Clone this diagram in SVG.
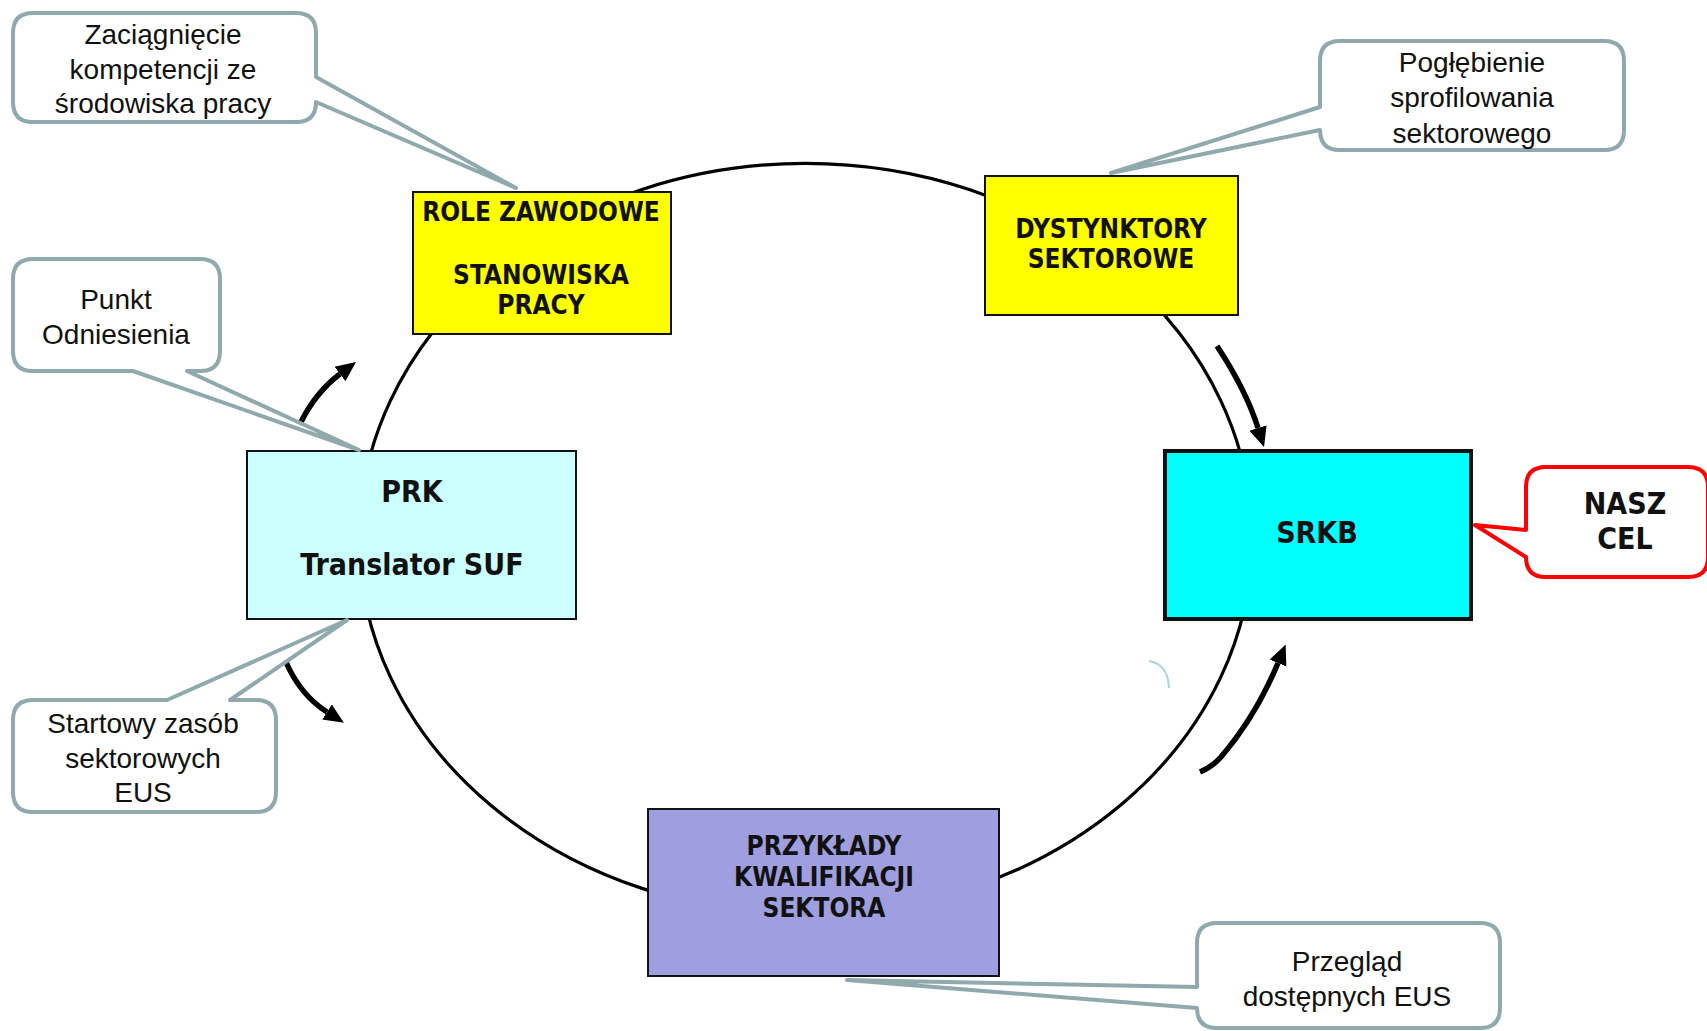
<svg xmlns="http://www.w3.org/2000/svg" width="1707" height="1031" viewBox="0 0 1707 1031">
<defs>
<style>
.callout{fill:#fff;stroke:#8FA9AC;stroke-width:4;stroke-linejoin:round}
.red{fill:#fff;stroke:#FF0000;stroke-width:4;stroke-linejoin:round}
.ct{font-family:"Liberation Sans",Arial,sans-serif;font-size:28px;fill:#111;text-anchor:middle}
.bt{font-family:"DejaVu Sans Condensed","DejaVu Sans",sans-serif;font-stretch:condensed;font-weight:bold;font-size:26px;fill:#111;text-anchor:middle}
.big{font-size:30px}
.box{stroke:#111;stroke-width:2}
.flow{fill:none;stroke:#000;stroke-width:5.5;stroke-linecap:butt}
</style>
<marker id="ah" markerUnits="userSpaceOnUse" viewBox="0 -10 20 20" refX="0" refY="0" markerWidth="20" markerHeight="20" orient="auto">
<path d="M0,-9 L20,0 L0,9 Z" fill="#000"/>
</marker>
</defs>
<rect width="1707" height="1031" fill="#fff"/>
<g id="connectors">
<ellipse cx="805.6" cy="538.9" rx="446.5" ry="375.6" fill="none" stroke="#000" stroke-width="3.2"/>
<path class="flow" d="M301,422 Q316,392 340,374" marker-end="url(#ah)"/>
<path class="flow" d="M285,660 Q300,695 327,712" marker-end="url(#ah)"/>
<path class="flow" d="M1217,346 Q1246,390 1258,428" marker-end="url(#ah)"/>
<path class="flow" d="M1200,772 Q1212,767 1221,757 Q1256,716 1278,663" marker-end="url(#ah)"/>
<path d="M1149,661 Q1168,664 1169,688" fill="none" stroke="#A8D4DA" stroke-width="2"/>
</g>
<g id="role">
<rect class="box" x="413" y="192" width="258" height="142" fill="#FFFF00"/>
<text class="bt" x="541" y="221">ROLE ZAWODOWE</text>
<text class="bt" x="541" y="284">STANOWISKA</text>
<text class="bt" x="541" y="314">PRACY</text>
</g>
<g id="dystynktory">
<rect class="box" x="985" y="176" width="253" height="139" fill="#FFFF00"/>
<text class="bt" x="1111" y="238">DYSTYNKTORY</text>
<text class="bt" x="1111" y="268">SEKTOROWE</text>
</g>
<g id="prk">
<rect class="box" x="247" y="451" width="329" height="168" fill="#CCFFFF"/>
<text class="bt big" x="412" y="502">PRK</text>
<text class="bt big" x="412" y="575">Translator SUF</text>
</g>
<g id="srkb">
<rect x="1165" y="451" width="306" height="168" fill="#00FFFF" stroke="#111" stroke-width="4"/>
<text class="bt big" x="1317" y="543">SRKB</text>
</g>
<g id="przyklady">
<rect class="box" x="648" y="809" width="351" height="167" fill="#9F9FDF"/>
<text class="bt" x="824" y="855">PRZYKŁADY</text>
<text class="bt" x="824" y="886">KWALIFIKACJI</text>
<text class="bt" x="824" y="917">SEKTORA</text>
</g>
<g id="callout-zaciagniecie">
<path class="callout" d="M33,13 H296 Q316,13 316,33 V77 L516,188 L316,102 Q316,122 296,122 H33 Q13,122 13,102 V33 Q13,13 33,13 Z"/>
<text class="ct" x="163" y="44">Zaciągnięcie</text>
<text class="ct" x="163" y="79">kompetencji ze</text>
<text class="ct" x="163" y="113">środowiska pracy</text>
</g>
<g id="callout-poglebienie">
<path class="callout" d="M1340,41 H1604 Q1624,41 1624,61 V130 Q1624,150 1604,150 H1340 Q1320,150 1320,130 L1111,173 L1320,107 V61 Q1320,41 1340,41 Z"/>
<text class="ct" x="1472" y="72">Pogłębienie</text>
<text class="ct" x="1472" y="107">sprofilowania</text>
<text class="ct" x="1472" y="143">sektorowego</text>
</g>
<g id="callout-punkt">
<path class="callout" d="M33,259 H200 Q220,259 220,279 V351 Q220,371 200,371 H187 L359,450 L133,371 H33 Q13,371 13,351 V279 Q13,259 33,259 Z"/>
<text class="ct" x="116" y="309">Punkt</text>
<text class="ct" x="116" y="344">Odniesienia</text>
</g>
<g id="callout-nasz-cel">
<path class="red" d="M1546,467 H1688 Q1708,467 1708,487 V557 Q1708,577 1688,577 H1546 Q1526,577 1526,557 L1475,525 L1526,530 V487 Q1526,467 1546,467 Z"/>
<text class="bt big" x="1625" y="514">NASZ</text>
<text class="bt big" x="1625" y="549">CEL</text>
</g>
<g id="callout-startowy">
<path class="callout" d="M33,700 H167 L347,620 L230,700 H256 Q276,700 276,720 V792 Q276,812 256,812 H33 Q13,812 13,792 V720 Q13,700 33,700 Z"/>
<text class="ct" x="143" y="733">Startowy zasób</text>
<text class="ct" x="143" y="768">sektorowych</text>
<text class="ct" x="143" y="802">EUS</text>
</g>
<g id="callout-przeglad">
<path class="callout" d="M1217,923 H1480 Q1500,923 1500,943 V1008 Q1500,1028 1480,1028 H1217 Q1197,1028 1197,1008 L847,980 L1197,987 V943 Q1197,923 1217,923 Z"/>
<text class="ct" x="1347" y="971">Przegląd</text>
<text class="ct" x="1347" y="1006">dostępnych EUS</text>
</g>
</svg>
